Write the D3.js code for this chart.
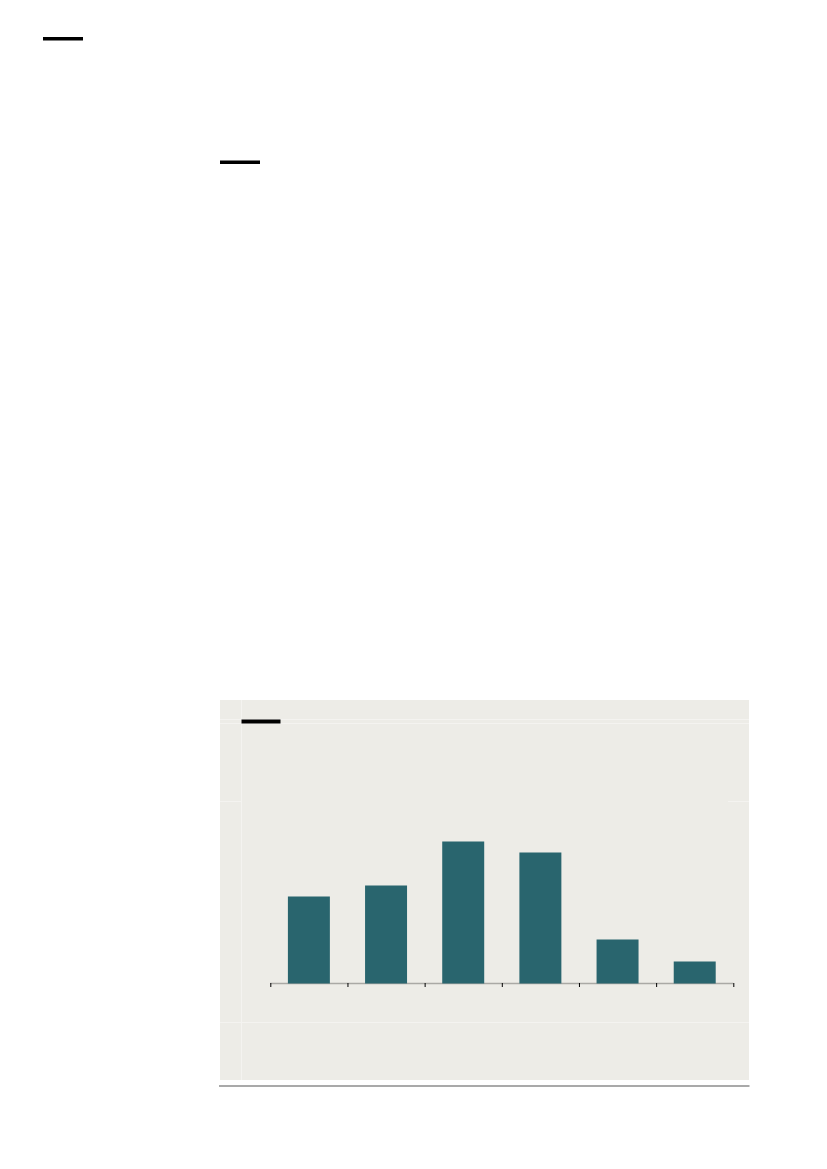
<!DOCTYPE html>
<html>
<head>
<meta charset="utf-8">
<script src="https://cdn.jsdelivr.net/npm/d3@7"></script>
<style>
html,body{margin:0;padding:0;background:#fff;}
svg{display:block;}
</style>
</head>
<body>
<svg id="chart" width="827" height="1169"></svg>
<script>
// Data (no labels are printed on the reference chart)
const categories = ["A", "B", "C", "D", "E", "F"];
const values = [87, 98, 142, 131, 44, 22];
const tickLabels = ["", "", "", "", "", "", ""];

const svg = d3.select("#chart");

// Page-level decorative dashes
svg.append("rect").attr("x", 43).attr("y", 37).attr("width", 40).attr("height", 3.5).attr("fill", "#000");
svg.append("rect").attr("x", 220).attr("y", 160.5).attr("width", 40).attr("height", 3.5).attr("fill", "#000");

// Panel
svg.append("rect").attr("x", 220).attr("y", 700).attr("width", 529).attr("height", 380).attr("fill", "#edece7");

// faint layout guide lines
const faint = "#f4f3f0";
svg.append("line").attr("x1", 241.5).attr("x2", 241.5).attr("y1", 700).attr("y2", 1080).attr("stroke", faint).attr("stroke-width", 1);
svg.append("line").attr("x1", 220).attr("x2", 749).attr("y1", 719.5).attr("y2", 719.5).attr("stroke", faint).attr("stroke-width", 1);
svg.append("line").attr("x1", 220).attr("x2", 749).attr("y1", 723.5).attr("y2", 723.5).attr("stroke", faint).attr("stroke-width", 1);
svg.append("line").attr("x1", 220).attr("x2", 241).attr("y1", 801.5).attr("y2", 801.5).attr("stroke", faint).attr("stroke-width", 1);
svg.append("line").attr("x1", 728).attr("x2", 749).attr("y1", 801.5).attr("y2", 801.5).attr("stroke", faint).attr("stroke-width", 1);
svg.append("line").attr("x1", 220).attr("x2", 749).attr("y1", 1022.5).attr("y2", 1022.5).attr("stroke", faint).attr("stroke-width", 1);

// Legend swatch
svg.append("rect").attr("x", 241.5).attr("y", 719.5).attr("width", 39).attr("height", 4).attr("fill", "#000");

// Scales
const x0 = 270.3, x1 = 733.3;
const x = d3.scaleBand().domain(categories).range([x0, x1]).paddingInner(0.456).paddingOuter(0.228);
const xTicks = d3.scaleLinear().domain([0, categories.length]).range([x0, x1]);
const y = d3.scaleLinear().domain([0, 200]).range([983.5, 783.5]);

// Axis baseline (gray)
svg.append("line").attr("x1", x0).attr("x2", x1).attr("y1", 983.5).attr("y2", 983.5)
  .attr("stroke", "#aaa9a5").attr("stroke-width", 1.3);

// Bars
svg.append("g").selectAll("rect").data(values).join("rect")
  .attr("x", (d, i) => x(categories[i]))
  .attr("y", d => y(d))
  .attr("width", x.bandwidth())
  .attr("height", d => y(0) - y(d))
  .attr("fill", "#29656e");

// Ticks via d3 axis
const axis = d3.axisBottom(xTicks)
  .tickValues(d3.range(0, categories.length + 1))
  .tickFormat((d, i) => tickLabels[i])
  .tickSize(4).tickSizeOuter(0);
const gAxis = svg.append("g").attr("transform", "translate(0,983)").call(axis);
gAxis.select(".domain").remove();
gAxis.selectAll(".tick line").attr("stroke", "#000").attr("stroke-width", 1);

// Bottom rule
svg.append("line").attr("x1", 219).attr("x2", 749.5).attr("y1", 1086).attr("y2", 1086)
  .attr("stroke", "#555").attr("stroke-width", 1.2);
</script>
</body>
</html>
